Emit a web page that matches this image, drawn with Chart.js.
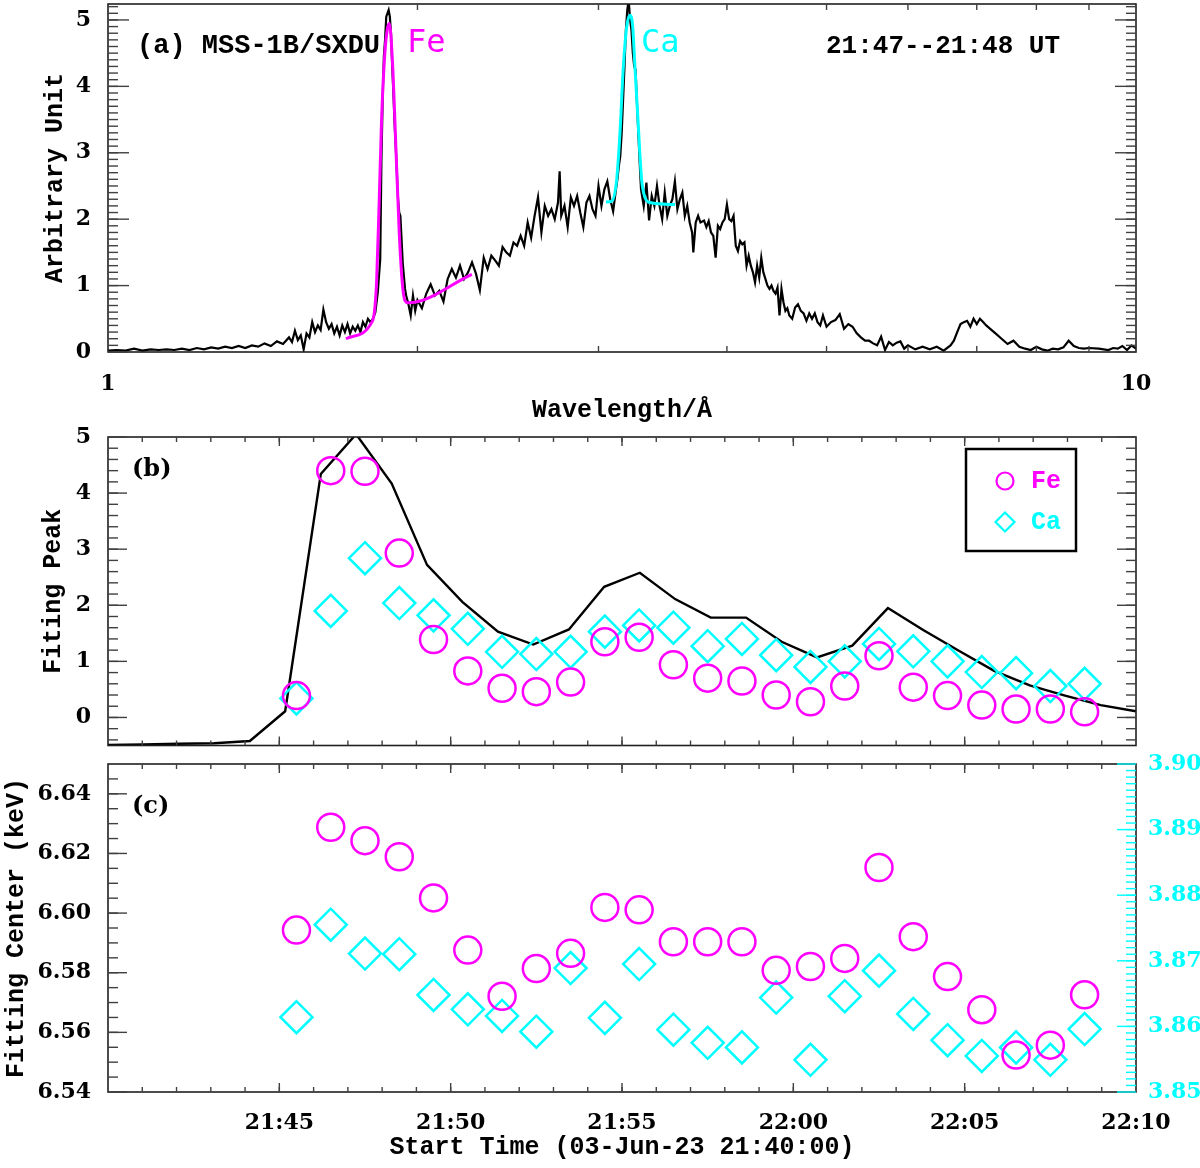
<!DOCTYPE html>
<html>
<head>
<meta charset="utf-8">
<title>MSS-1B/SXDU Fe and Ca line fits</title>
<script src="https://cdn.jsdelivr.net/npm/chart.js@4.4.0/dist/chart.umd.min.js"></script>
<style>
    html, body { margin: 0; padding: 0; background: #fff; }
    #wrap { position: relative; width: 1200px; height: 1168px; overflow: hidden; background: #fff; }
    .panel { position: absolute; left: 0; width: 1200px; }
</style>
</head>
<body>
<div id="wrap">
    <div class="panel" style="top:0px;height:430px"><canvas id="spectrumChart"></canvas></div>
    <div class="panel" style="top:400px;height:364px"><canvas id="peakChart"></canvas></div>
    <div class="panel" style="top:740px;height:428px"><canvas id="centerChart"></canvas></div>
</div>
<script>
// ---- panel (a): spectrum 21:47--21:48 UT ----
const specWavelength = [
    1.00, 1.02, 1.04, 1.06, 1.08, 1.10, 1.12, 1.14, 1.16, 1.18, 1.20, 1.22, 1.24, 1.26, 1.28, 1.30,
    1.32, 1.34, 1.36, 1.38, 1.40, 1.42, 1.44, 1.46, 1.48, 1.50, 1.51, 1.52, 1.53, 1.54, 1.55, 1.56,
    1.57, 1.58, 1.59, 1.60, 1.61, 1.62, 1.63, 1.64, 1.65, 1.66, 1.67, 1.68, 1.69, 1.70, 1.71, 1.72,
    1.73, 1.74, 1.75, 1.76, 1.77, 1.78, 1.79, 1.80, 1.81, 1.82, 1.83, 1.84, 1.845, 1.85, 1.855, 1.86,
    1.865, 1.87, 1.875, 1.88, 1.885, 1.89, 1.895, 1.90, 1.905, 1.91, 1.915, 1.92, 1.925, 1.93, 1.935, 1.94,
    1.945, 1.95, 1.96, 1.97, 1.98, 1.99, 2.00, 2.02, 2.04, 2.06, 2.08, 2.10, 2.12, 2.14, 2.16, 2.18,
    2.20, 2.22, 2.24, 2.26, 2.28, 2.30, 2.32, 2.34, 2.36, 2.38, 2.40, 2.42, 2.44, 2.46, 2.48, 2.50,
    2.52, 2.54, 2.56, 2.58, 2.60, 2.62, 2.64, 2.66, 2.68, 2.70, 2.72, 2.74, 2.75, 2.76, 2.78, 2.80,
    2.82, 2.84, 2.86, 2.88, 2.90, 2.92, 2.94, 2.96, 2.98, 3.00, 3.02, 3.04, 3.06, 3.08, 3.10, 3.12,
    3.13, 3.14, 3.15, 3.16, 3.17, 3.18, 3.19, 3.20, 3.21, 3.22, 3.23, 3.24, 3.25, 3.26, 3.27, 3.28,
    3.29, 3.30, 3.32, 3.34, 3.36, 3.38, 3.40, 3.42, 3.44, 3.46, 3.48, 3.50, 3.52, 3.54, 3.56, 3.58,
    3.60, 3.62, 3.64, 3.66, 3.68, 3.70, 3.71, 3.73, 3.75, 3.77, 3.80, 3.82, 3.84, 3.86, 3.88, 3.90,
    3.92, 3.94, 3.96, 3.98, 4.00, 4.02, 4.04, 4.06, 4.08, 4.10, 4.12, 4.14, 4.16, 4.18, 4.20, 4.22,
    4.24, 4.26, 4.28, 4.30, 4.32, 4.34, 4.36, 4.38, 4.40, 4.42, 4.44, 4.46, 4.48, 4.50, 4.52, 4.54,
    4.56, 4.58, 4.60, 4.63, 4.66, 4.69, 4.72, 4.75, 4.78, 4.81, 4.84, 4.87, 4.90, 4.93, 4.96, 5.00,
    5.05, 5.10, 5.15, 5.20, 5.25, 5.30, 5.35, 5.40, 5.45, 5.50, 5.55, 5.60, 5.65, 5.70, 5.75, 5.80,
    5.85, 5.90, 5.95, 6.00, 6.10, 6.20, 6.30, 6.40, 6.50, 6.60, 6.65, 6.70, 6.75, 6.80, 6.85, 6.90,
    6.95, 7.00, 7.05, 7.10, 7.15, 7.20, 7.30, 7.40, 7.50, 7.60, 7.70, 7.80, 7.90, 8.00, 8.10, 8.20,
    8.30, 8.40, 8.50, 8.60, 8.70, 8.80, 8.90, 9.00, 9.20, 9.40, 9.50, 9.60, 9.70, 9.80, 9.90, 10.0
];
const specIntensity = [
    0.02, 0.03, 0.02, 0.05, 0.02, 0.04, 0.03, 0.04, 0.03, 0.05, 0.03, 0.06, 0.04, 0.07, 0.05, 0.08,
    0.06, 0.09, 0.06, 0.10, 0.08, 0.13, 0.09, 0.16, 0.12, 0.22, 0.15, 0.32, 0.18, 0.25, 0.04, 0.28,
    0.22, 0.45, 0.30, 0.40, 0.33, 0.64, 0.45, 0.35, 0.42, 0.28, 0.38, 0.25, 0.40, 0.30, 0.42, 0.28,
    0.38, 0.32, 0.40, 0.30, 0.45, 0.38, 0.50, 0.45, 0.50, 0.60, 0.90, 1.40, 2.90, 3.80, 4.45, 4.70,
    5.05, 5.10, 5.15, 5.05, 4.80, 4.30, 3.90, 3.45, 3.10, 2.70, 2.30, 2.10, 2.05, 1.70, 1.35, 1.15,
    0.95, 0.85, 0.72, 0.55, 0.85, 0.62, 0.78, 0.66, 0.88, 1.02, 0.85, 0.92, 0.76, 1.10, 1.25, 1.12,
    1.30, 1.10, 1.20, 1.35, 1.18, 0.93, 1.42, 1.25, 1.45, 1.38, 1.30, 1.58, 1.50, 1.45, 1.65, 1.60,
    1.75, 1.60, 1.95, 1.72, 2.05, 2.33, 1.80, 2.20, 2.05, 2.15, 2.00, 2.25, 2.72, 2.05, 2.20, 1.88,
    2.33, 2.20, 2.35, 2.10, 1.88, 2.25, 2.35, 2.15, 2.05, 2.50, 2.20, 2.45, 2.57, 2.30, 2.12, 2.45,
    2.60, 2.80, 2.95, 3.30, 3.80, 4.30, 4.85, 5.15, 5.30, 5.00, 4.85, 4.50, 4.30, 4.25, 3.75, 3.30,
    2.85, 2.45, 2.20, 2.55, 1.98, 2.35, 2.20, 2.50, 2.20, 2.00, 2.40, 2.05, 2.20, 2.30, 2.57, 2.15,
    2.30, 2.40, 2.05, 2.20, 1.95, 1.80, 1.50, 1.95, 2.05, 1.95, 1.98, 1.88, 1.97, 1.80, 1.75, 1.42,
    1.90, 1.85, 1.95, 2.00, 2.22, 2.00, 1.97, 2.05, 1.60, 1.52, 1.67, 1.62, 1.65, 1.30, 1.45, 1.30,
    1.20, 1.05, 1.30, 1.12, 1.42, 1.20, 1.10, 1.00, 0.95, 1.00, 0.92, 0.88, 0.97, 0.55, 0.95, 0.75,
    0.62, 0.66, 0.55, 0.50, 0.67, 0.72, 0.62, 0.58, 0.47, 0.58, 0.50, 0.58, 0.45, 0.40, 0.55, 0.38,
    0.45, 0.48, 0.57, 0.35, 0.42, 0.38, 0.28, 0.22, 0.17, 0.17, 0.13, 0.10, 0.23, 0.03, 0.15, 0.10,
    0.14, 0.16, 0.05, 0.10, 0.04, 0.08, 0.04, 0.08, 0.02, 0.10, 0.17, 0.30, 0.42, 0.45, 0.47, 0.38,
    0.50, 0.42, 0.50, 0.45, 0.40, 0.36, 0.28, 0.20, 0.12, 0.17, 0.08, 0.05, 0.03, 0.08, 0.04, 0.02,
    0.05, 0.04, 0.07, 0.17, 0.09, 0.06, 0.05, 0.06, 0.05, 0.03, 0.06, 0.05, 0.09, 0.03, 0.10, 0.05
];
// Gaussian + linear fits to the Fe XXV and Ca XIX lines
const feFitWavelength = [1.704, 1.806, 1.816, 1.825, 1.836, 1.846, 1.860, 1.869, 1.878, 1.892, 1.906, 1.920, 1.933, 1.945, 1.959, 2.259];
const feFitIntensity  = [0.20, 0.45, 0.60, 1.05, 2.30, 3.55, 4.55, 4.85, 4.95, 4.30, 3.05, 1.80, 1.05, 0.77, 0.74, 1.17];
const caFitWavelength = [3.051, 3.090, 3.125, 3.148, 3.172, 3.196, 3.220, 3.239, 3.255, 3.280, 3.304, 3.329, 3.367, 3.561];
const caFitIntensity  = [2.26, 2.27, 2.60, 3.30, 4.30, 4.90, 5.07, 4.90, 4.30, 3.40, 2.60, 2.33, 2.25, 2.22];

// ---- panel (b): fitted peaks and light curve (minutes after 21:40:00) ----
const fluxTime = [
    0.00, 1.03, 2.07, 3.10, 4.14, 5.17, 6.21, 7.24, 8.28, 9.31, 10.34, 11.38, 12.41, 13.45, 14.48,
    15.52, 16.55, 17.59, 18.62, 19.66, 20.69, 21.72, 22.76, 23.79, 24.83, 25.86, 26.90, 27.93, 28.97, 30.00
];
const fluxValue = [
    -0.49, -0.48, -0.47, -0.46, -0.42, 0.11, 4.34, 5.05, 4.17, 2.72, 2.06, 1.53, 1.30, 1.57, 2.33,
    2.58, 2.11, 1.78, 1.78, 1.35, 1.07, 1.28, 1.95, 1.56, 1.19, 0.83, 0.57, 0.39, 0.22, 0.11
];
const fitTime = [
    5.5, 6.5, 7.5, 8.5, 9.5, 10.5, 11.5, 12.5, 13.5, 14.5, 15.5, 16.5,
    17.5, 18.5, 19.5, 20.5, 21.5, 22.5, 23.5, 24.5, 25.5, 26.5, 27.5, 28.5
];
const fePeak = [
    0.39, 4.40, 4.39, 2.93, 1.39, 0.83, 0.52, 0.46, 0.63, 1.35, 1.43, 0.94,
    0.70, 0.65, 0.40, 0.28, 0.56, 1.10, 0.54, 0.39, 0.22, 0.15, 0.15, 0.10
];
const caPeak = [
    0.34, 1.90, 2.84, 2.04, 1.82, 1.58, 1.17, 1.13, 1.17, 1.53, 1.64, 1.60,
    1.27, 1.40, 1.11, 0.90, 1.00, 1.31, 1.18, 1.00, 0.81, 0.79, 0.56, 0.60
];

// ---- panel (c): fitted line centres (keV) ----
const feCenter = [
    6.5943, 6.6288, 6.6243, 6.6189, 6.6051, 6.5876, 6.5721, 6.5814, 6.5865, 6.6019, 6.6011, 6.5904,
    6.5904, 6.5904, 6.5808, 6.5821, 6.5848, 6.6153, 6.5921, 6.5787, 6.5676, 6.5524, 6.5557, 6.5726
];
const caCenter = [
    3.8614, 3.8755, 3.8711, 3.8710, 3.8648, 3.8626, 3.8616, 3.8592, 3.8689, 3.8613, 3.8695, 3.8595,
    3.8575, 3.8568, 3.8644, 3.8549, 3.8646, 3.8685, 3.8619, 3.8579, 3.8555, 3.8568, 3.8549, 3.8596
];

// ---- tick labels ----
const wavelengthTicks = [1, 10];
const specTicks = [0, 1, 2, 3, 4, 5];
const peakTicks = [0, 1, 2, 3, 4, 5];
const feCenterTicks = [6.54, 6.56, 6.58, 6.60, 6.62, 6.64];
const caCenterTicks = [3.85, 3.86, 3.87, 3.88, 3.89, 3.90];
const timeTicks = [5, 10, 15, 20, 25, 30];
const timeLabels = ['21:45', '21:50', '21:55', '22:00', '22:05', '22:10'];

(function() {
    'use strict';

    const COLORS = {
        fe: '#ff00ff',
        ca: '#00ffff',
        line: '#000000',
        frame: '#202020',
        tick: '#404040'
    };

    const TICK_FONT = { family: '"DejaVu Serif", serif', size: 22, weight: 'bold' };
    const TITLE_FONT = { family: '"Liberation Mono", monospace', size: 25, weight: 'bold' };

    function pairs(xs, ys) {
        return xs.map(function(x, i) { return { x: x, y: ys[i] }; });
    }

    // evenly spaced minor tick values, for the axis decoration only
    function steps(from, to, step) {
        const out = [];
        const n = Math.round((to - from) / step);
        for (let i = 0; i <= n; i++) out.push(Math.round((from + i * step) * 1e6) / 1e6);
        return out;
    }

    function fixedTicks(values) {
        return function(scale) {
            scale.ticks = values.map(function(v) { return { value: v }; });
        };
    }

    // fixed axis size, no extra room for labels hanging over the plot ends
    function fitWidth(w) {
        return function(s) { s.width = w; s.paddingTop = 0; s.paddingBottom = 0; };
    }
    function fitHeight(h) {
        return function(s) { s.height = h; s.paddingLeft = 0; s.paddingRight = 0; };
    }

    /**
     * IDL style box with inward ticks, panel labels and legend
     */
    function makeFrame(cfg) {
        return {
            id: 'idlFrame',
            afterDatasetsDraw: function(chart) {
                const ctx = chart.ctx;
                const a = chart.chartArea;
                ctx.save();

                ctx.lineWidth = 1.6;
                ctx.strokeStyle = COLORS.frame;
                ctx.strokeRect(a.left, a.top, a.right - a.left, a.bottom - a.top);

                (cfg.ticks || []).forEach(function(t) {
                    const scale = chart.scales[t.scale];
                    ctx.strokeStyle = t.color || COLORS.tick;
                    ctx.lineWidth = 1.4;
                    [[t.minor || [], t.minorLen], [t.major || [], t.majorLen]].forEach(function(set) {
                        set[0].forEach(function(v) {
                            const p = scale.getPixelForValue(v);
                            ctx.beginPath();
                            if (t.side === 'bottom') { ctx.moveTo(p, a.bottom); ctx.lineTo(p, a.bottom - set[1]); }
                            if (t.side === 'top') { ctx.moveTo(p, a.top); ctx.lineTo(p, a.top + set[1]); }
                            if (t.side === 'left') { ctx.moveTo(a.left, p); ctx.lineTo(a.left + set[1], p); }
                            if (t.side === 'right') { ctx.moveTo(a.right, p); ctx.lineTo(a.right - set[1], p); }
                            ctx.stroke();
                        });
                    });
                });

                (cfg.texts || []).forEach(function(t) {
                    ctx.font = t.font;
                    ctx.fillStyle = t.color || '#000';
                    ctx.textAlign = 'left';
                    ctx.textBaseline = 'middle';
                    ctx.fillText(t.text, t.x, t.y);
                });

                if (cfg.legend) {
                    const L = cfg.legend;
                    ctx.lineWidth = 2.5;
                    ctx.strokeStyle = '#000';
                    ctx.strokeRect(L.box[0], L.box[1], L.box[2], L.box[3]);
                    L.items.forEach(function(item) {
                        ctx.lineWidth = 2.2;
                        ctx.strokeStyle = item.color;
                        ctx.beginPath();
                        if (item.shape === 'circle') {
                            ctx.arc(item.x, item.y, 8.5, 0, Math.PI * 2);
                        } else {
                            ctx.moveTo(item.x - 9.5, item.y);
                            ctx.lineTo(item.x, item.y - 9.5);
                            ctx.lineTo(item.x + 9.5, item.y);
                            ctx.lineTo(item.x, item.y + 9.5);
                            ctx.closePath();
                        }
                        ctx.stroke();
                        ctx.font = 'bold 25px "Liberation Mono", monospace';
                        ctx.fillStyle = item.color;
                        ctx.textAlign = 'left';
                        ctx.textBaseline = 'middle';
                        ctx.fillText(item.label, item.x + 26, item.y + 1);
                    });
                }
                ctx.restore();
            }
        };
    }

    const baseOptions = function() {
        return {
            responsive: true,
            maintainAspectRatio: false,
            animation: false,
            events: [],
            plugins: { legend: { display: false }, tooltip: { enabled: false } }
        };
    };

    /**
     * Panel (a): spectrum with Fe and Ca line fits
     */
    function initSpectrumChart() {
        const opts = baseOptions();
        opts.layout = { padding: { top: 4, right: 64, bottom: 0, left: 0 } };
        opts.scales = {
            x: {
                type: 'logarithmic',
                min: 1,
                max: 10,
                grid: { display: false },
                border: { display: false },
                afterBuildTicks: fixedTicks(wavelengthTicks),
                afterFit: fitHeight(78),
                ticks: {
                    font: TICK_FONT, color: '#000', padding: 11, maxRotation: 0, autoSkip: false,
                    callback: function(v) { return String(v); }
                },
                title: { display: true, text: 'Wavelength/Å', font: TITLE_FONT, color: '#000', padding: { top: 0, bottom: 4 } }
            },
            y: {
                min: 0,
                max: 5.24,
                grid: { display: false },
                border: { display: false },
                afterBuildTicks: fixedTicks(specTicks),
                afterFit: fitWidth(108),
                ticks: { font: TICK_FONT, color: '#000', padding: 9 },
                title: { display: true, text: 'Arbitrary Unit', font: TITLE_FONT, color: '#000', padding: { top: 41, bottom: 0 } }
            }
        };

        new Chart(document.getElementById('spectrumChart'), {
            type: 'line',
            data: {
                datasets: [{
                    label: 'Fe fit',
                    data: pairs(feFitWavelength, feFitIntensity),
                    borderColor: COLORS.fe,
                    borderWidth: 3,
                    pointRadius: 0,
                    cubicInterpolationMode: 'monotone'
                }, {
                    label: 'Ca fit',
                    data: pairs(caFitWavelength, caFitIntensity),
                    borderColor: COLORS.ca,
                    borderWidth: 3,
                    pointRadius: 0,
                    cubicInterpolationMode: 'monotone'
                }, {
                    label: 'Spectrum',
                    data: pairs(specWavelength, specIntensity),
                    borderColor: COLORS.line,
                    borderWidth: 2.2,
                    pointRadius: 0,
                    tension: 0
                }]
            },
            options: opts,
            plugins: [makeFrame({
                ticks: [
                    { scale: 'x', side: 'bottom', minor: [2, 3, 4, 5, 6, 7, 8, 9], minorLen: 6, major: [], majorLen: 0 },
                    { scale: 'x', side: 'top', minor: [2, 3, 4, 5, 6, 7, 8, 9], minorLen: 6, major: [], majorLen: 0 },
                    { scale: 'y', side: 'left', minor: steps(0.1, 5.2, 0.1), minorLen: 10, major: specTicks, majorLen: 21 },
                    { scale: 'y', side: 'right', minor: steps(0.1, 5.2, 0.1), minorLen: 10, major: specTicks, majorLen: 21 }
                ],
                texts: [
                    { text: '(a) MSS-1B/SXDU', x: 137, y: 46, font: 'bold 27px "Liberation Mono", monospace' },
                    { text: 'Fe', x: 407, y: 44, font: '32px "DejaVu Sans Mono", monospace', color: COLORS.fe },
                    { text: 'Ca', x: 641, y: 44, font: '32px "DejaVu Sans Mono", monospace', color: COLORS.ca },
                    { text: '21:47--21:48 UT', x: 826, y: 46, font: 'bold 26px "Liberation Mono", monospace' }
                ]
            })]
        });
    }

    function timeAxis(showLabels) {
        return {
            type: 'linear',
            min: 0,
            max: 30,
            display: showLabels,
            grid: { display: false },
            border: { display: false },
            afterBuildTicks: fixedTicks(timeTicks),
            afterFit: fitHeight(showLabels ? 76 : 0),
            ticks: {
                font: TICK_FONT, color: '#000', padding: 10, maxRotation: 0, autoSkip: false,
                callback: function(v) { return timeLabels[timeTicks.indexOf(v)]; }
            },
            title: {
                display: showLabels, text: 'Start Time (03-Jun-23 21:40:00)',
                font: TITLE_FONT, color: '#000', padding: { top: 0, bottom: 5 }
            }
        };
    }

    const timeMinor = steps(1, 29, 1);
    const timeMajor = [5, 10, 15, 20, 25];

    /**
     * Panel (b): fitted line peaks with light curve
     */
    function initPeakChart() {
        const opts = baseOptions();
        opts.layout = { padding: { top: 37, right: 64, bottom: 1, left: 0 } };
        opts.scales = {
            x: timeAxis(false),
            y: {
                min: -0.5,
                max: 5.0,
                grid: { display: false },
                border: { display: false },
                afterBuildTicks: fixedTicks(peakTicks),
                afterFit: fitWidth(108),
                ticks: { font: TICK_FONT, color: '#000', padding: 9 },
                title: { display: true, text: 'Fiting Peak', font: TITLE_FONT, color: '#000', padding: { top: 39, bottom: 0 } }
            }
        };

        new Chart(document.getElementById('peakChart'), {
            type: 'scatter',
            data: {
                datasets: [{
                    label: 'Fe',
                    data: pairs(fitTime, fePeak),
                    pointStyle: 'circle',
                    pointRadius: 13.5,
                    borderColor: COLORS.fe,
                    backgroundColor: 'transparent',
                    borderWidth: 2.5
                }, {
                    label: 'Ca',
                    data: pairs(fitTime, caPeak),
                    pointStyle: 'rectRot',
                    pointRadius: 16,
                    borderColor: COLORS.ca,
                    backgroundColor: 'transparent',
                    borderWidth: 2.5
                }, {
                    label: 'Light curve',
                    data: pairs(fluxTime, fluxValue),
                    showLine: true,
                    pointRadius: 0,
                    borderColor: COLORS.line,
                    borderWidth: 2.4
                }]
            },
            options: opts,
            plugins: [makeFrame({
                ticks: [
                    { scale: 'x', side: 'bottom', minor: timeMinor, minorLen: 5, major: timeMajor, majorLen: 9 },
                    { scale: 'x', side: 'top', minor: timeMinor, minorLen: 5, major: timeMajor, majorLen: 9 },
                    { scale: 'y', side: 'left', minor: steps(-0.4, 4.8, 0.2), minorLen: 10, major: peakTicks, majorLen: 19 },
                    { scale: 'y', side: 'right', minor: steps(-0.4, 4.8, 0.2), minorLen: 10, major: peakTicks, majorLen: 19 }
                ],
                texts: [
                    { text: '(b)', x: 132, y: 70, font: 'bold 24px "DejaVu Serif", serif' }
                ],
                legend: {
                    box: [966, 49, 110, 102],
                    items: [
                        { shape: 'circle', x: 1005, y: 81, color: COLORS.fe, label: 'Fe' },
                        { shape: 'diamond', x: 1005, y: 122, color: COLORS.ca, label: 'Ca' }
                    ]
                }
            })]
        });
    }

    /**
     * Panel (c): fitted line centres, Fe on the left axis and Ca on the right
     */
    function initCenterChart() {
        const opts = baseOptions();
        opts.layout = { padding: { top: 24, right: 0, bottom: 0, left: 0 } };
        opts.scales = {
            x: timeAxis(true),
            y: {
                position: 'left',
                min: 6.54,
                max: 6.65,
                grid: { display: false },
                border: { display: false },
                afterBuildTicks: fixedTicks(feCenterTicks),
                afterFit: fitWidth(108),
                ticks: {
                    font: TICK_FONT, color: '#000', padding: 9,
                    callback: function(v) { return v.toFixed(2); }
                },
                title: { display: true, text: 'Fitting Center (keV)', font: TITLE_FONT, color: '#000', padding: { top: 2, bottom: 0 } }
            },
            y2: {
                position: 'right',
                min: 3.85,
                max: 3.90,
                grid: { display: false },
                border: { display: false },
                afterBuildTicks: fixedTicks(caCenterTicks),
                afterFit: fitWidth(64),
                ticks: {
                    font: TICK_FONT, color: COLORS.ca, padding: 4,
                    callback: function(v) { return v.toFixed(2); }
                }
            }
        };

        new Chart(document.getElementById('centerChart'), {
            type: 'scatter',
            data: {
                datasets: [{
                    label: 'Fe',
                    data: pairs(fitTime, feCenter),
                    yAxisID: 'y',
                    pointStyle: 'circle',
                    pointRadius: 13.5,
                    borderColor: COLORS.fe,
                    backgroundColor: 'transparent',
                    borderWidth: 2.5
                }, {
                    label: 'Ca',
                    data: pairs(fitTime, caCenter),
                    yAxisID: 'y2',
                    pointStyle: 'rectRot',
                    pointRadius: 16,
                    borderColor: COLORS.ca,
                    backgroundColor: 'transparent',
                    borderWidth: 2.5
                }]
            },
            options: opts,
            plugins: [makeFrame({
                ticks: [
                    { scale: 'x', side: 'bottom', minor: timeMinor, minorLen: 5, major: timeMajor, majorLen: 9 },
                    { scale: 'x', side: 'top', minor: timeMinor, minorLen: 5, major: timeMajor, majorLen: 9 },
                    { scale: 'y', side: 'left', minor: steps(6.545, 6.645, 0.005), minorLen: 10, major: feCenterTicks, majorLen: 19 },
                    { scale: 'y2', side: 'right', minor: steps(3.851, 3.899, 0.001), minorLen: 10, major: caCenterTicks, majorLen: 19, color: COLORS.ca }
                ],
                texts: [
                    { text: '(c)', x: 132, y: 67, font: 'bold 24px "DejaVu Serif", serif' }
                ]
            })]
        });
    }

    function initCharts() {
        initSpectrumChart();
        initPeakChart();
        initCenterChart();
    }

    if (document.readyState === 'loading') {
        document.addEventListener('DOMContentLoaded', initCharts);
    } else {
        initCharts();
    }
})();
</script>
</body>
</html>
